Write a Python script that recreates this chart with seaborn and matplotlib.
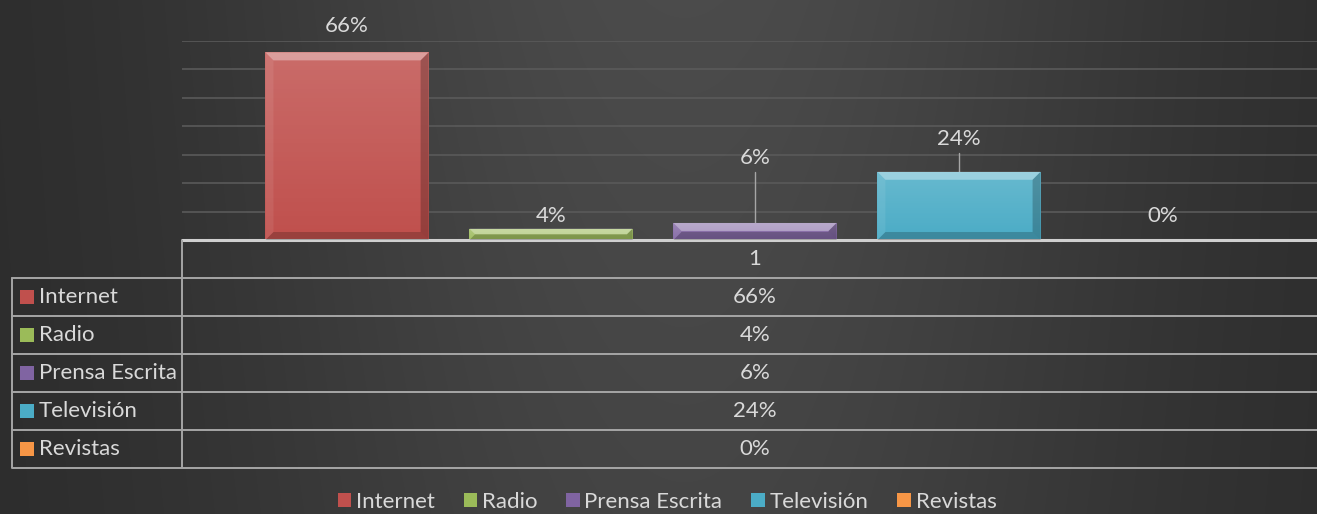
import numpy as np
import pandas as pd
import seaborn as sns
import matplotlib.pyplot as plt
from matplotlib.patches import Polygon, Rectangle

# data
medios = ["Internet", "Radio", "Prensa Escrita", "Televisión", "Revistas"]
porcentajes = [66, 4, 6, 24, 0]
colores = ["#c0504d", "#9bbb59", "#8064a2", "#4bacc6", "#f79646"]
categoria = "1"

# where each data label sits (in % units), Excel moved two of them by hand
etiqueta_y = [75.3, 8.6, 29.0, 35.7, 8.6]

W, H = 1317, 514
TXT = "#d9d9d9"
LINEA = "#a6a6a6"

sns.set_style("white")
plt.rcParams["font.family"] = ["Lato", "DejaVu Sans"]
plt.rcParams["font.size"] = 16

fig = plt.figure(figsize=(W / 100, H / 100), dpi=100)

# dark background with soft light in the middle
bg = fig.add_axes([0, 0, 1, 1], zorder=-10)
xs = np.linspace(0, 1, W)
ys = np.linspace(0, 1, H)
gx, gy = np.meshgrid(xs, ys)
shade = 0.165 + 0.13 * np.exp(-((gx - 0.52) / 0.36) ** 2) * (0.8 + 0.2 * gy)
bg.imshow(np.dstack([shade] * 3), aspect="auto", extent=(0, 1, 0, 1), origin="lower")
bg.set_axis_off()

# bar chart
ax = fig.add_axes([182 / W, (H - 240) / H, 1146 / W, 199 / H])
ax.set_facecolor("none")
df = pd.DataFrame({"categoria": [categoria] * len(medios),
                   "medio": medios,
                   "porcentaje": porcentajes})
sns.barplot(data=df, x="categoria", y="porcentaje", hue="medio", hue_order=medios,
            palette=colores, saturation=1, width=0.89, gap=0.2, legend=False,
            linewidth=0, ax=ax, zorder=3)
ax.set_xlim(-0.5, 0.5)
ax.set_ylim(0, 70)
ax.set_yticks(range(10, 80, 10))
ax.yaxis.grid(True, color="#5a5a5a", linewidth=1.2)
ax.set_axisbelow(True)
ax.tick_params(left=False, bottom=False, labelleft=False, labelbottom=False)
ax.set_xlabel("")
ax.set_ylabel("")
for s in ax.spines.values():
    s.set_visible(False)

# soft vertical shine on each bar face
shine = np.zeros((64, 1, 4))
shine[..., :3] = 1.0
shine[:, 0, 3] = np.linspace(0.0, 0.16, 64)
for patch in ax.patches:
    if patch.get_height() <= 0:
        continue
    im = ax.imshow(shine, aspect="auto", origin="lower", zorder=3.5,
                   extent=(patch.get_x(), patch.get_x() + patch.get_width(),
                           0, patch.get_height()))
    im.set_clip_path(patch)
ax.set_xlim(-0.5, 0.5)
ax.set_ylim(0, 70)

fig.canvas.draw()
bev = 8
for patch in ax.patches:
    if patch.get_height() <= 0:
        continue
    (x0, y0), (x1, y1) = ax.transData.transform(
        [(patch.get_x(), 0), (patch.get_x() + patch.get_width(), patch.get_height())])
    b = min(bev, (y1 - y0) / 2)
    faces = [
        ([(x0, y1), (x1, y1), (x1 - b, y1 - b), (x0 + b, y1 - b)], "white", 0.35),
        ([(x0, y0), (x1, y0), (x1 - b, y0 + b), (x0 + b, y0 + b)], "black", 0.2),
        ([(x0, y0), (x0, y1), (x0 + b, y1 - b), (x0 + b, y0 + b)], "white", 0.08),
        ([(x1, y0), (x1, y1), (x1 - b, y1 - b), (x1 - b, y0 + b)], "black", 0.22),
    ]
    for pts, c, a in faces:
        fig.patches.append(Polygon(pts, closed=True, facecolor=c, alpha=a,
                                   edgecolor="none", transform=None, zorder=4))

for patch, val, ly in zip(ax.patches, porcentajes, etiqueta_y):
    cx = patch.get_x() + patch.get_width() / 2
    ax.text(cx, ly, f"{val}%", ha="center", va="center", color=TXT, clip_on=False)
    if ly - val > 10:
        ax.plot([cx, cx], [val, ly - 5.2], color=LINEA, linewidth=1, zorder=2)

# data table under the bars (pixel units)
tab = fig.add_axes([0, (H - 468) / H, 1328 / W, 228 / H])
tab.set_xlim(0, 1328)
tab.set_ylim(468, 240)
tab.set_axis_off()
tab.set_facecolor("none")

fila_y = [278 + 38 * i for i in range(len(medios) + 1)]
for y in fila_y:
    tab.plot([12, 1328], [y, y], color=LINEA, linewidth=1.4, clip_on=False)
tab.plot([182, 1328], [240, 240], color="#cfcfcf", linewidth=2.2, clip_on=False)
tab.plot([182, 182], [240, 468], color=LINEA, linewidth=1.4)
tab.plot([12, 12], [278, 468], color=LINEA, linewidth=1.4)

centro = 755
tab.text(centro, 259, categoria, ha="center", va="center", color=TXT)
for i, (m, v, c) in enumerate(zip(medios, porcentajes, colores)):
    yc = 297 + 38 * i
    tab.add_patch(Rectangle((20, yc - 7), 14, 14, facecolor=c, edgecolor="none"))
    tab.text(39, yc, m, ha="left", va="center", color=TXT)
    tab.text(centro, yc, f"{v}%", ha="center", va="center", color=TXT)

# legend at the bottom
handles = [Rectangle((0, 0), 1, 1, facecolor=c, edgecolor="none") for c in colores]
fig.legend(handles, medios, loc="center", bbox_to_anchor=(667 / W, 1 - 502 / H),
           ncol=5, frameon=False, handlelength=0.62, handleheight=0.62,
           handletextpad=0.2, columnspacing=1.3, labelcolor=TXT, borderaxespad=0)

fig.savefig("out.png", dpi=100)
